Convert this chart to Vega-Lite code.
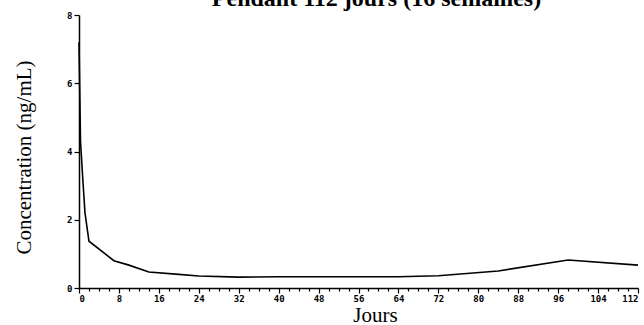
{
  "$schema": "https://vega.github.io/schema/vega-lite/v6.json",
  "width": 559,
  "height": 273,
  "autosize": "none",
  "padding": {"left": 79, "top": 15, "right": 6, "bottom": 37},
  "background": "white",
  "title": {
    "text": "Pendant 112 jours (16 semaines)",
    "font": "Liberation Serif",
    "fontSize": 24,
    "fontWeight": "bold",
    "color": "black",
    "anchor": "middle",
    "dx": 18,
    "dy": 0,
    "offset": 0
  },
  "config": {
    "view": {"stroke": null},
    "axis": {
      "grid": false,
      "domainColor": "black",
      "tickColor": "black",
      "labelColor": "black",
      "labelFont": "DejaVu Sans Mono",
      "labelFontWeight": "bold",
      "labelFontSize": 9,
      "titleFont": "Liberation Serif",
      "titleFontWeight": "normal",
      "titleFontSize": 21,
      "titleColor": "black",
      "domainWidth": 1.5,
      "tickWidth": 1.2
    }
  },
  "data": {
    "values": [
      {"jour": 0, "conc": 7.2},
      {"jour": 0.3, "conc": 4.3},
      {"jour": 0.8, "conc": 3.1},
      {"jour": 1.2, "conc": 2.2},
      {"jour": 2, "conc": 1.37},
      {"jour": 7, "conc": 0.8},
      {"jour": 10, "conc": 0.67},
      {"jour": 14, "conc": 0.47},
      {"jour": 20, "conc": 0.4},
      {"jour": 24, "conc": 0.35},
      {"jour": 32, "conc": 0.32},
      {"jour": 40, "conc": 0.33},
      {"jour": 48, "conc": 0.33},
      {"jour": 56, "conc": 0.33},
      {"jour": 64, "conc": 0.33},
      {"jour": 72, "conc": 0.36},
      {"jour": 84, "conc": 0.5},
      {"jour": 98, "conc": 0.82},
      {"jour": 112, "conc": 0.67}
    ]
  },
  "mark": {"type": "line", "color": "black", "strokeWidth": 1.6},
  "encoding": {
    "x": {
      "field": "jour", "type": "quantitative",
      "scale": {"domain": [0, 112], "nice": false},
      "axis": {
        "title": "Jours",
        "values": [0, 2, 4, 6, 8, 10, 12, 14, 16, 18, 20, 22, 24, 26, 28, 30, 32, 34, 36, 38, 40, 42, 44, 46, 48, 50, 52, 54, 56, 58, 60, 62, 64, 66, 68, 70, 72, 74, 76, 78, 80, 82, 84, 86, 88, 90, 92, 94, 96, 98, 100, 102, 104, 106, 108, 110, 112],
        "labelExpr": "datum.value % 8 === 0 ? datum.label : ''",
        "labelOverlap": false,
        "tickSize": {"condition": {"test": "datum.value % 8 === 0", "value": 5}, "value": 3},
        "labelPadding": 1,
        "titleX": 296,
        "titleY": 33,
        "titleBaseline": "alphabetic",
        "titleAnchor": null
      }
    },
    "y": {
      "field": "conc", "type": "quantitative",
      "scale": {"domain": [0, 8], "nice": false},
      "axis": {
        "title": "Concentration (ng/mL)",
        "values": [0, 2, 4, 6, 8],
        "tickSize": 5,
        "labelPadding": 2,
        "titleX": -55,
        "titleY": 142,
        "titleAngle": -90,
        "titleBaseline": "middle"
      }
    }
  }
}
